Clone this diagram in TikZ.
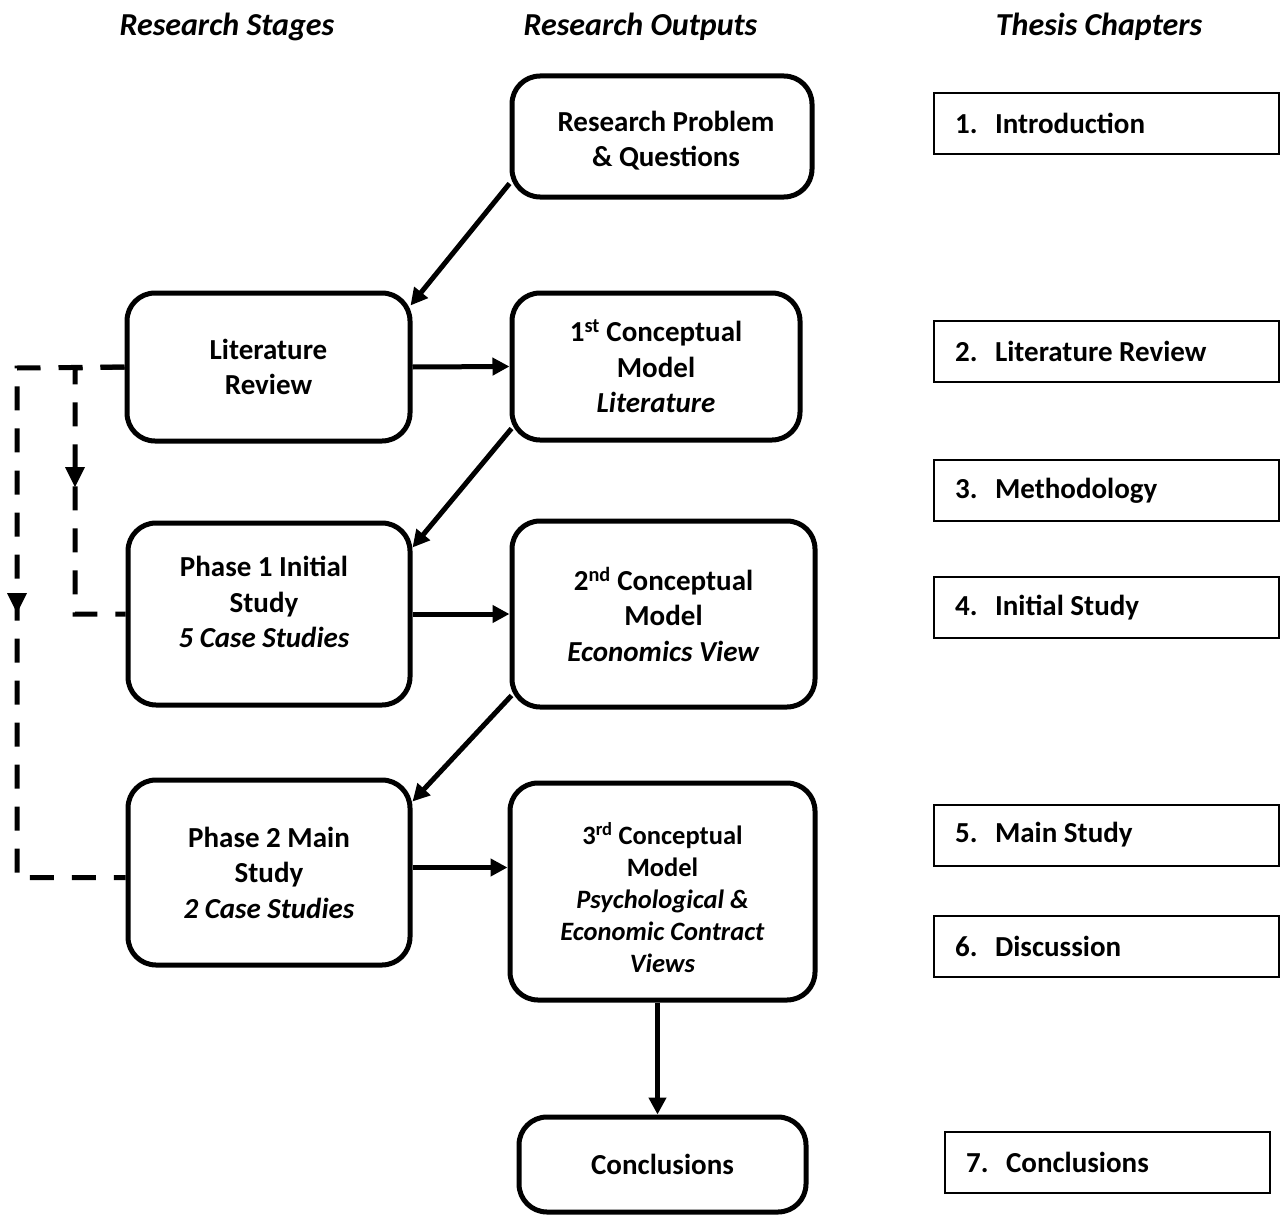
\documentclass[tikz,border=0pt]{standalone}
\usepackage{fontspec}
\setmainfont{Carlito}
\usetikzlibrary{arrows.meta,calc}

\newcommand\boxfont{\fontsize{29}{35.5}\selectfont\bfseries}
\newcommand\smallboxfont{\fontsize{26.5}{32}\selectfont\bfseries}

\begin{document}
\begin{tikzpicture}[x=1pt,y=-1pt,
  stage/.style={draw, line width=5pt, rounded corners=28pt, align=center,
                inner sep=4pt, font=\boxfont},
  stagetext/.style={align=center, inner sep=0pt, font=\boxfont},
  chapter/.style={draw, line width=2pt, minimum width=345pt, minimum height=61pt},
  chaptertext/.style={anchor=west, inner sep=0pt, font=\boxfont},
  colhead/.style={font=\fontsize{32}{38}\selectfont\bfseries\itshape},
  tip/.style={-{Triangle[length=17pt,width=17pt]}},
  flow/.style={line width=5pt, tip},
  backlink/.style={line width=5pt, dash pattern=on 24pt off 18pt}
]
\useasboundingbox (0,0) rectangle (1285,1215);

% column headings
\node[colhead, anchor=west] (hstages)   at (116,27)  {Research Stages};
\node[colhead, anchor=west] (houtputs)  at (520,27)  {Research Outputs};
\node[colhead]              (hchapters) at (1099,27) {Thesis Chapters};

% research stages
\node[stage, minimum width=283pt, minimum height=148pt] (lr) at (268.5,367)
  {Literature\\Review};
\node[stage, minimum width=282pt, minimum height=182pt] (p1) at (269,614) {};
\node[stagetext] (p1text) at (264,602)
  {Phase 1 Initial\\Study\\\textit{5 Case Studies}};
\node[stage, minimum width=282pt, minimum height=185pt] (p2) at (269,872.5)
  {Phase 2 Main\\Study\\\textit{2 Case Studies}};

% research outputs
\node[stage, minimum width=300pt, minimum height=121pt] (rp) at (662,136.5) {};
\node[stagetext] (rptext) at (666,140.5) {Research Problem\\\& Questions};
\node[stage, minimum width=288pt, minimum height=147pt] (m1) at (656,366.5)
  {1\textsuperscript{st} Conceptual\\Model\\\textit{Literature}};
\node[stage, minimum width=303pt, minimum height=186pt] (m2) at (663.5,614)
  {2\textsuperscript{nd} Conceptual\\Model\\\textit{Economics View}};
\node[stage, minimum width=305pt, minimum height=217pt] (m3) at (662.5,891.5) {};
\node[stagetext, font=\smallboxfont] (m3text) at (662.5,897.5)
  {3\textsuperscript{rd} Conceptual\\Model\\\textit{Psychological \&}\\\textit{Economic Contract}\\\textit{Views}};
\node[stage, minimum width=287pt, minimum height=95pt] (cc) at (662.5,1164.5)
  {Conclusions};

% thesis chapters
\node[chapter] (c1) at (1106.5,123.5) {};
\node[chapter] (c2) at (1106.5,351.5) {};
\node[chapter] (c3) at (1106.5,490.5) {};
\node[chapter] (c4) at (1106.5,607.5) {};
\node[chapter] (c5) at (1106.5,835)   {};
\node[chapter] (c6) at (1106.5,946)   {};
\node[chapter, minimum width=325pt] (c7) at (1107.5,1162) {};
\node[chaptertext] (c1t) at ($(c1.west)+(22,0)$) {1.\hspace{0.6em}Introduction};
\node[chaptertext] (c2t) at ($(c2.west)+(22,0)$) {2.\hspace{0.6em}Literature Review};
\node[chaptertext] (c3t) at ($(c3.west)+(22,0)$) {3.\hspace{0.6em}Methodology};
\node[chaptertext] (c4t) at ($(c4.west)+(22,0)$) {4.\hspace{0.6em}Initial Study};
\node[chaptertext] (c5t) at ($(c5.west)+(22,0)$) {5.\hspace{0.6em}Main Study};
\node[chaptertext] (c6t) at ($(c6.west)+(22,0)$) {6.\hspace{0.6em}Discussion};
\node[chaptertext] (c7t) at ($(c7.west)+(22,0)$) {7.\hspace{0.6em}Conclusions};

% main flow
\draw[flow] ($(rp.south west)+(0,-16)$) -- ($(lr.north east)+(-2,15)$);
\draw[flow] (lr.east) -- (m1.west);
\draw[flow] ($(m1.south west)+(2,-14)$) -- ($(p1.north east)+(0,27)$);
\draw[flow] (p1.east) -- (m2.west);
\draw[flow] ($(m2.south west)+(2,-14)$) -- ($(p2.north east)+(0,24)$);
\draw[flow] ($(p2.east)+(0,-5)$) -- ($(m3.west |- p2.east)+(0,-5)$);
\draw[flow] ($(m3.south)+(-5,0)$) -- ($(cc.north)+(-5,0)$);

% feedback links from the literature review
\coordinate (innertop) at (75,368);
\coordinate (outertop) at (17,368);
\draw[backlink] (lr.west) -- (innertop) -- (innertop |- p1.west) -- (p1.west);
\draw[backlink] (lr.west) -- (outertop)
  -- ($(outertop |- p2.west)+(0,5)$) -- ($(p2.west)+(0,5)$);
% arrowheads half-way down the feedback links
\fill (innertop) ++(-10,99) -- ++(20,0) -- ++(-10,20) -- cycle;
\fill (outertop) ++(-10,225) -- ++(20,0) -- ++(-10,20) -- cycle;
\end{tikzpicture}
\end{document}
